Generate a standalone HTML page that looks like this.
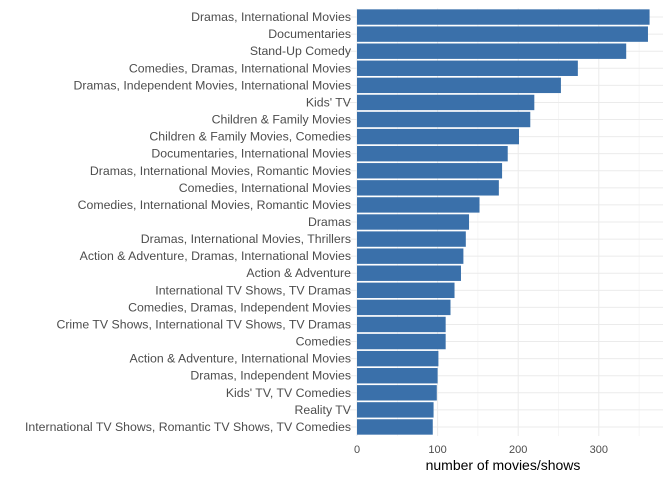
<!DOCTYPE html>
<html><head><meta charset="utf-8"><style>
body{margin:0;background:#fff;}
svg{font-family:"Liberation Sans",sans-serif;}
</style></head><body>
<svg id="c" width="672" height="480"></svg>
<script>
const categories=["Dramas, International Movies","Documentaries","Stand-Up Comedy","Comedies, Dramas, International Movies","Dramas, Independent Movies, International Movies","Kids' TV","Children & Family Movies","Children & Family Movies, Comedies","Documentaries, International Movies","Dramas, International Movies, Romantic Movies","Comedies, International Movies","Comedies, International Movies, Romantic Movies","Dramas","Dramas, International Movies, Thrillers","Action & Adventure, Dramas, International Movies","Action & Adventure","International TV Shows, TV Dramas","Comedies, Dramas, Independent Movies","Crime TV Shows, International TV Shows, TV Dramas","Comedies","Action & Adventure, International Movies","Dramas, Independent Movies","Kids' TV, TV Comedies","Reality TV","International TV Shows, Romantic TV Shows, TV Comedies"];
const counts=[363,361,334,274,253,220,215,201,187,180,176,152,139,135,132,129,121,116,110,110,101,100,99,95,94];
const ticks=[0,100,200,300];
const NS="http://www.w3.org/2000/svg",svgEl=document.getElementById('c');
const x0=357,pxPer=0.806,plotTop=8.5,step=17.08,bh=15.4,plotRight=663,plotBottom=436;
const X=v=>x0+v*pxPer, Y=i=>plotTop+step*i+step/2;
function el(t,a,txt){const e=document.createElementNS(NS,t);for(const k in a)e.setAttribute(k,a[k]);if(txt!=null)e.textContent=txt;svgEl.appendChild(e);return e;}
for(let v=50;X(v)<plotRight;v+=100){const g=el('line',{x1:X(v),x2:X(v),y1:plotTop,y2:plotBottom,stroke:'#f0f0f0','stroke-width':0.6});

}
categories.forEach((c,i)=>{const g=el('line',{x1:x0-14,x2:plotRight,y1:Y(i),y2:Y(i),stroke:'#ebebeb','stroke-width':1});

});
ticks.forEach(t=>{const g=el('line',{x1:X(t),x2:X(t),y1:plotTop,y2:plotBottom,stroke:'#ebebeb','stroke-width':1});


const l=el('text',{x:X(t),y:453,'text-anchor':'middle','font-size':11,fill:'#4d4d4d'},t);

});
categories.forEach((c,i)=>{const r=el('rect',{x:x0,y:Y(i)-bh/2,width:X(counts[i])-x0,height:bh,fill:'#3a70aa'});


const t=el('text',{x:x0-6,y:Y(i)+4,'text-anchor':'end','font-size':12.3,fill:'#4d4d4d'},c);

});
const at=el('text',{x:503,y:470,'text-anchor':'middle','font-size':14,fill:'#000'},'number of movies/shows');


</script>
</body></html>
